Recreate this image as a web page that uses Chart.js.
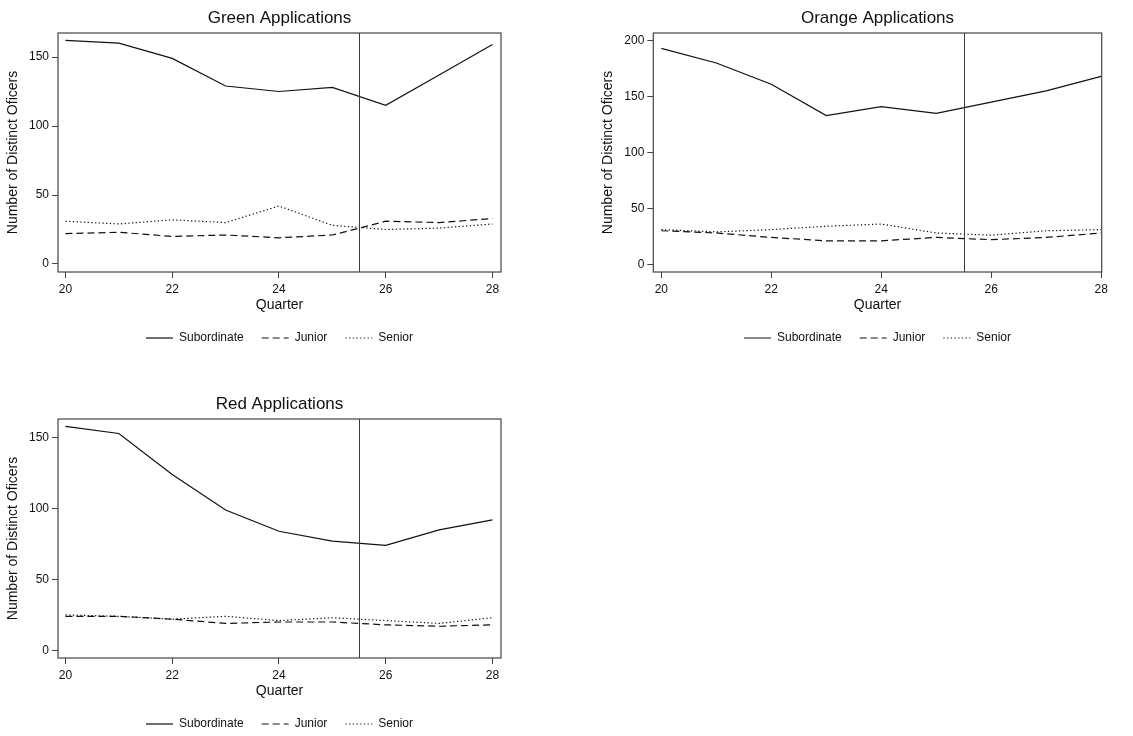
<!DOCTYPE html>
<html>
<head>
<meta charset="utf-8">
<script src="https://cdn.jsdelivr.net/npm/chart.js@4.4.0/dist/chart.umd.min.js"></script>
<style>
  html, body { margin: 0; padding: 0; background: #fff; overflow: hidden; }
  canvas { position: absolute; }
  #greenChart { left: 0px; top: 0px; }
  #orangeChart { left: 595px; top: 0px; }
  #redChart { left: 0px; top: 386px; }
</style>
</head>
<body>
<canvas id="greenChart" width="560" height="354"></canvas>
<canvas id="orangeChart" width="538" height="354"></canvas>
<canvas id="redChart" width="560" height="354"></canvas>
<script>
// quarters on the x axis
const quarters = [20, 21, 22, 23, 24, 25, 26, 27, 28];
const xTicks = [20, 22, 24, 26, 28];
const cutoff = 25.5; // vertical reference line

// Green applications
const greenSub = [162, 160, 149, 129, 125, 128, 115, 137, 159];
const greenJun = [22, 23, 20, 21, 19, 21, 31, 30, 33];
const greenSen = [31, 29, 32, 30, 42, 28, 25, 26, 29];
const greenTicks = [0, 50, 100, 150];

// Orange applications
const orangeSub = [193, 180, 161, 133, 141, 135, 145, 155, 168];
const orangeJun = [30, 28, 24, 21, 21, 24, 22, 24, 28];
const orangeSen = [31, 29, 31, 34, 36, 28, 26, 30, 31];
const orangeTicks = [0, 50, 100, 150, 200];

// Red applications
const redSub = [158, 153, 124, 99, 84, 77, 74, 85, 92];
const redJun = [24, 24, 22, 19, 20, 20, 18, 17, 18];
const redSen = [25, 24, 22, 24, 21, 23, 21, 19, 23];
const redTicks = [0, 50, 100, 150];

const seriesNames = ['Subordinate', 'Junior', 'Senior'];
const seriesDash = [[], [7, 4], [1.3, 2.4]];
const FONT = '"Liberation Sans", Arial, sans-serif';

// frame round the plot area + the vertical line
const framePlugin = {
  id: 'frame',
  afterDatasetsDraw(chart) {
    const { ctx, chartArea: a, scales } = chart;
    ctx.save();
    const x = scales.x.getPixelForValue(cutoff);
    ctx.strokeStyle = '#3a3a3a';
    ctx.lineWidth = 1;
    ctx.beginPath();
    ctx.moveTo(Math.round(x) + 0.5, a.top);
    ctx.lineTo(Math.round(x) + 0.5, a.bottom);
    ctx.stroke();
    ctx.strokeStyle = '#444';
    ctx.lineWidth = 1.2;
    ctx.strokeRect(a.left, a.top, a.right - a.left, a.bottom - a.top);
    ctx.restore();
  }
};

function createLineChart(id, title, sub, jun, sen, yTicks, xMin, xMax, yMin, yMax, yWidth, padRight) {
  const data = {
    labels: quarters,
    datasets: [sub, jun, sen].map((vals, k) => ({
      label: seriesNames[k],
      data: vals.map((v, i) => ({ x: quarters[i], y: v })),
      borderDash: seriesDash[k],
      borderColor: '#111',
      backgroundColor: 'transparent',
      borderWidth: 1.2,
      pointRadius: 0,
      tension: 0
    }))
  };

  const chartConfig = {
    type: 'line',
    data: data,
    options: {
      responsive: false,
      animation: false,
      devicePixelRatio: 1,
      layout: { padding: { left: 0, right: padRight, top: 0, bottom: 0 } },
      plugins: {
        tooltip: { enabled: false },
        title: {
          display: true,
          text: title,
          fullSize: false,
          color: '#111',
          font: { family: FONT, size: 17, weight: 'normal' },
          padding: { top: 8, bottom: 4.6 }
        },
        legend: {
          position: 'bottom',
          fullSize: false,
          labels: {
            color: '#111',
            font: { family: FONT, size: 12 },
            usePointStyle: true,
            pointStyle: 'line',
            pointStyleWidth: 27,
            boxHeight: 12,
            padding: 18,
            generateLabels: chart => chart.data.datasets.map((ds, i) => ({
              text: ds.label,
              datasetIndex: i,
              pointStyle: 'line',
              fillStyle: 'transparent',
              strokeStyle: '#111',
              lineWidth: 1.2,
              lineDash: ds.borderDash,
              fontColor: '#111',
              hidden: false
            }))
          }
        }
      },
      scales: {
        x: {
          type: 'linear',
          min: xMin,
          max: xMax,
          afterBuildTicks: s => { s.ticks = xTicks.map(v => ({ value: v })); },
          afterFit: s => { s.height = 42; },
          grid: { drawOnChartArea: false, drawTicks: true, tickLength: 6, color: '#444' },
          border: { display: false },
          ticks: { color: '#111', font: { family: FONT, size: 12 }, padding: 4, maxRotation: 0 },
          title: { display: true, text: 'Quarter', color: '#111', font: { family: FONT, size: 14 }, padding: { top: 0, bottom: 0.6 } }
        },
        y: {
          min: yMin,
          max: yMax,
          afterBuildTicks: s => { s.ticks = yTicks.map(v => ({ value: v })); },
          afterFit: s => { s.width = yWidth; },
          grid: { drawOnChartArea: false, drawTicks: true, tickLength: 6, color: '#444' },
          border: { display: false },
          ticks: { color: '#111', font: { family: FONT, size: 12 }, padding: 3 },
          title: { display: true, text: 'Number of Distinct Oficers', color: '#111', font: { family: FONT, size: 14 }, padding: { top: 5, bottom: 0 } }
        }
      }
    },
    plugins: [framePlugin]
  };

  const ctx = document.getElementById(id).getContext('2d');
  return new Chart(ctx, chartConfig);
}

createLineChart('greenChart', 'Green Applications', greenSub, greenJun, greenSen, greenTicks, 19.86, 28.16, -5.8, 167.4, 58, 59);
createLineChart('orangeChart', 'Orange Applications', orangeSub, orangeJun, orangeSen, orangeTicks, 19.854, 28.01, -6.9, 206.8, 58.3, 31.3);
createLineChart('redChart', 'Red Applications', redSub, redJun, redSen, redTicks, 19.86, 28.16, -5.4, 163.2, 58, 59);
</script>
</body>
</html>
